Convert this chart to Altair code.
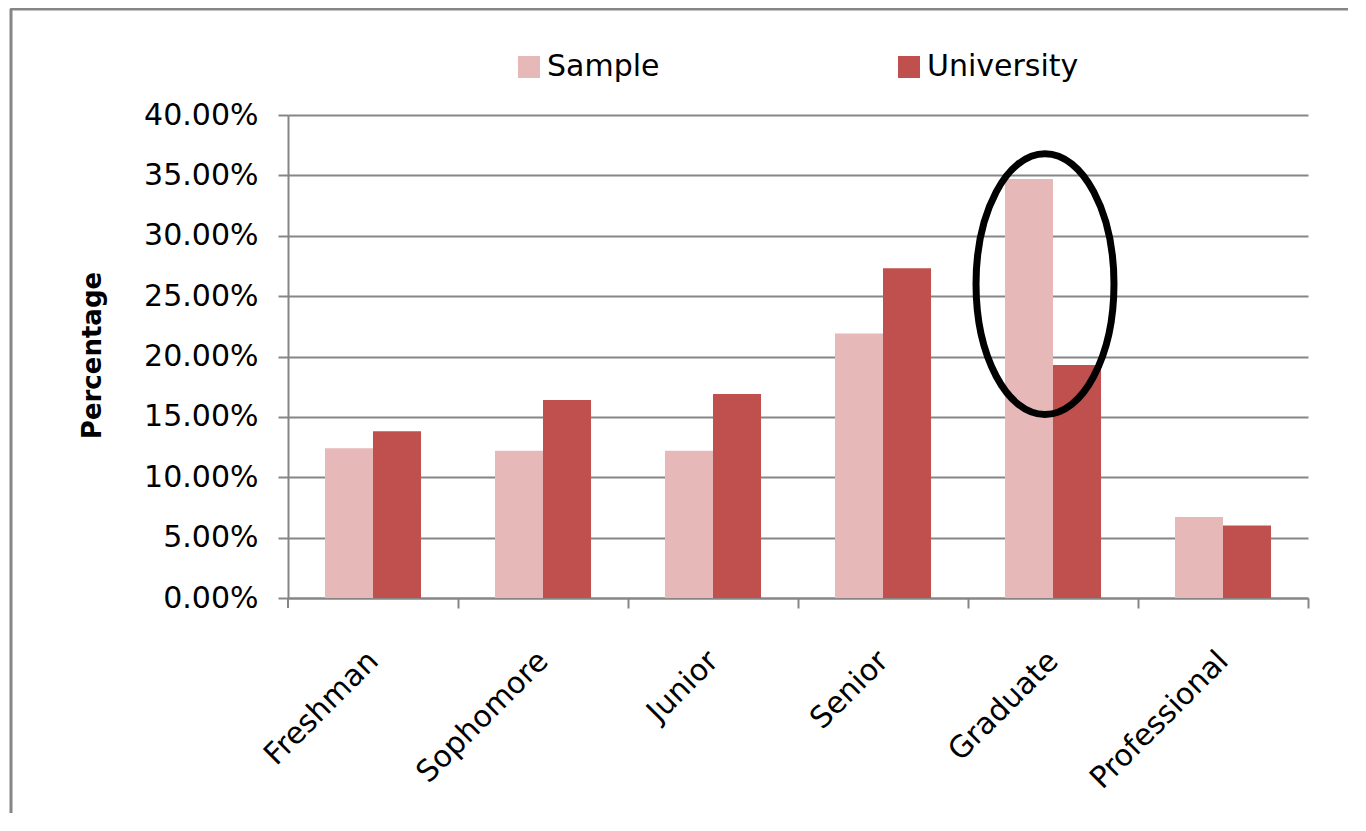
import altair as alt
import pandas as pd

categories = ["Freshman", "Sophomore", "Junior", "Senior", "Graduate", "Professional"]
series = ["Sample", "University"]
sample = [0.124, 0.122, 0.122, 0.219, 0.347, 0.067]
university = [0.138, 0.164, 0.169, 0.273, 0.193, 0.060]
colors = ["#E6B9B8", "#C0504D"]
y_ticks = [0.0, 0.05, 0.10, 0.15, 0.20, 0.25, 0.30, 0.35, 0.40]

# annotation: ellipse around the Graduate group
ellipse_cat = ["Graduate"]
ellipse_center = [0.26]

rows = []
for c, s, u in zip(categories, sample, university):
    rows.append({"cat": c, "series": "Sample", "value": s})
    rows.append({"cat": c, "series": "University", "value": u})
df = pd.DataFrame(rows)

FONT = "DejaVu Sans"
GRAY = "#868686"
STEP = 170

bars = alt.Chart(df).mark_bar().encode(
    x=alt.X(
        "cat:N",
        sort=categories,
        scale=alt.Scale(domain=categories, paddingInner=0.435, paddingOuter=0.2175),
        axis=alt.Axis(
            title=None,
            labelAngle=315,
            labelAlign="right",
            labelBaseline="middle",
            labelFont=FONT,
            labelFontSize=30,
            labelColor="#000000",
            labelPadding=48,
            labelLimit=0,
            labelOffset=-STEP / 2,
            tickOffset=STEP / 2,
            tickSize=10,
            tickColor=GRAY,
            tickWidth=2,
            domainColor=GRAY,
            domainWidth=2,
            grid=False,
        ),
    ),
    xOffset=alt.XOffset(
        "series:N", sort=series, scale=alt.Scale(domain=series, paddingInner=0, paddingOuter=0)
    ),
    y=alt.Y(
        "value:Q",
        scale=alt.Scale(domain=[0, 0.4], nice=False, zero=True),
        axis=alt.Axis(
            values=y_ticks,
            format=".2%",
            title="Percentage",
            titleFont=FONT,
            titleFontSize=26,
            titleFontWeight="bold",
            titleColor="#000000",
            titleAngle=270,
            titleAlign="center",
            titleBaseline="middle",
            titleX=-196,
            titleY=240,
            labelFont=FONT,
            labelFontSize=30,
            labelColor="#000000",
            labelPadding=20,
            tickSize=10,
            tickColor=GRAY,
            tickWidth=2,
            domainColor=GRAY,
            domainWidth=2,
            grid=True,
            gridColor=GRAY,
            gridWidth=2,
        ),
    ),
    color=alt.Color(
        "series:N",
        sort=series,
        scale=alt.Scale(domain=series, range=colors),
        legend=alt.Legend(
            title=None,
            orient="none",
            legendX=226,
            legendY=-63,
            direction="horizontal",
            symbolType="square",
            symbolSize=484,
            symbolStrokeWidth=0,
            symbolOpacity=1,
            labelFont=FONT,
            labelFontSize=30,
            labelColor="#000000",
            labelOffset=3,
            columnPadding=234,
        ),
    ),
)

ell_df = pd.DataFrame({"cat": ellipse_cat, "value": ellipse_center})
ellipse_path = (
    "M 0,-1 C 0.2921,-1 0.529,-0.5523 0.529,0 "
    "C 0.529,0.5523 0.2921,1 0,1 "
    "C -0.2921,1 -0.529,0.5523 -0.529,0 "
    "C -0.529,-0.5523 -0.2921,-1 0,-1 Z"
)
ellipse = alt.Chart(ell_df).mark_point(
    shape=ellipse_path,
    size=68000,
    filled=False,
    stroke="#000000",
    strokeWidth=7,
    opacity=1,
    xOffset=-8,
).encode(
    x=alt.X("cat:N", sort=categories),
    y=alt.Y("value:Q"),
)

frame_df = pd.DataFrame({"k": [0]})
first_tick = alt.Chart(frame_df).mark_rule(color=GRAY, strokeWidth=2).encode(
    x=alt.value(0), y=alt.value(483), y2=alt.value(493)
)
frame_left = alt.Chart(frame_df).mark_rule(color=GRAY, strokeWidth=3).encode(
    x=alt.value(-277), y=alt.value(-106), y2=alt.value(720)
)
frame_top = alt.Chart(frame_df).mark_rule(color=GRAY, strokeWidth=3).encode(
    x=alt.value(-278), x2=alt.value(1065), y=alt.value(-106)
)

chart = (
    alt.layer(bars, ellipse, first_tick, frame_left, frame_top)
    .properties(
        width=1020,
        height=483,
        autosize=alt.AutoSizeParams(type="none"),
        padding={"left": 280, "top": 107, "right": 40, "bottom": 215},
        background="#FFFFFF",
    )
    .configure_view(stroke=None)
)

chart.save("out.html", embed_options={"renderer": "svg", "actions": False})
